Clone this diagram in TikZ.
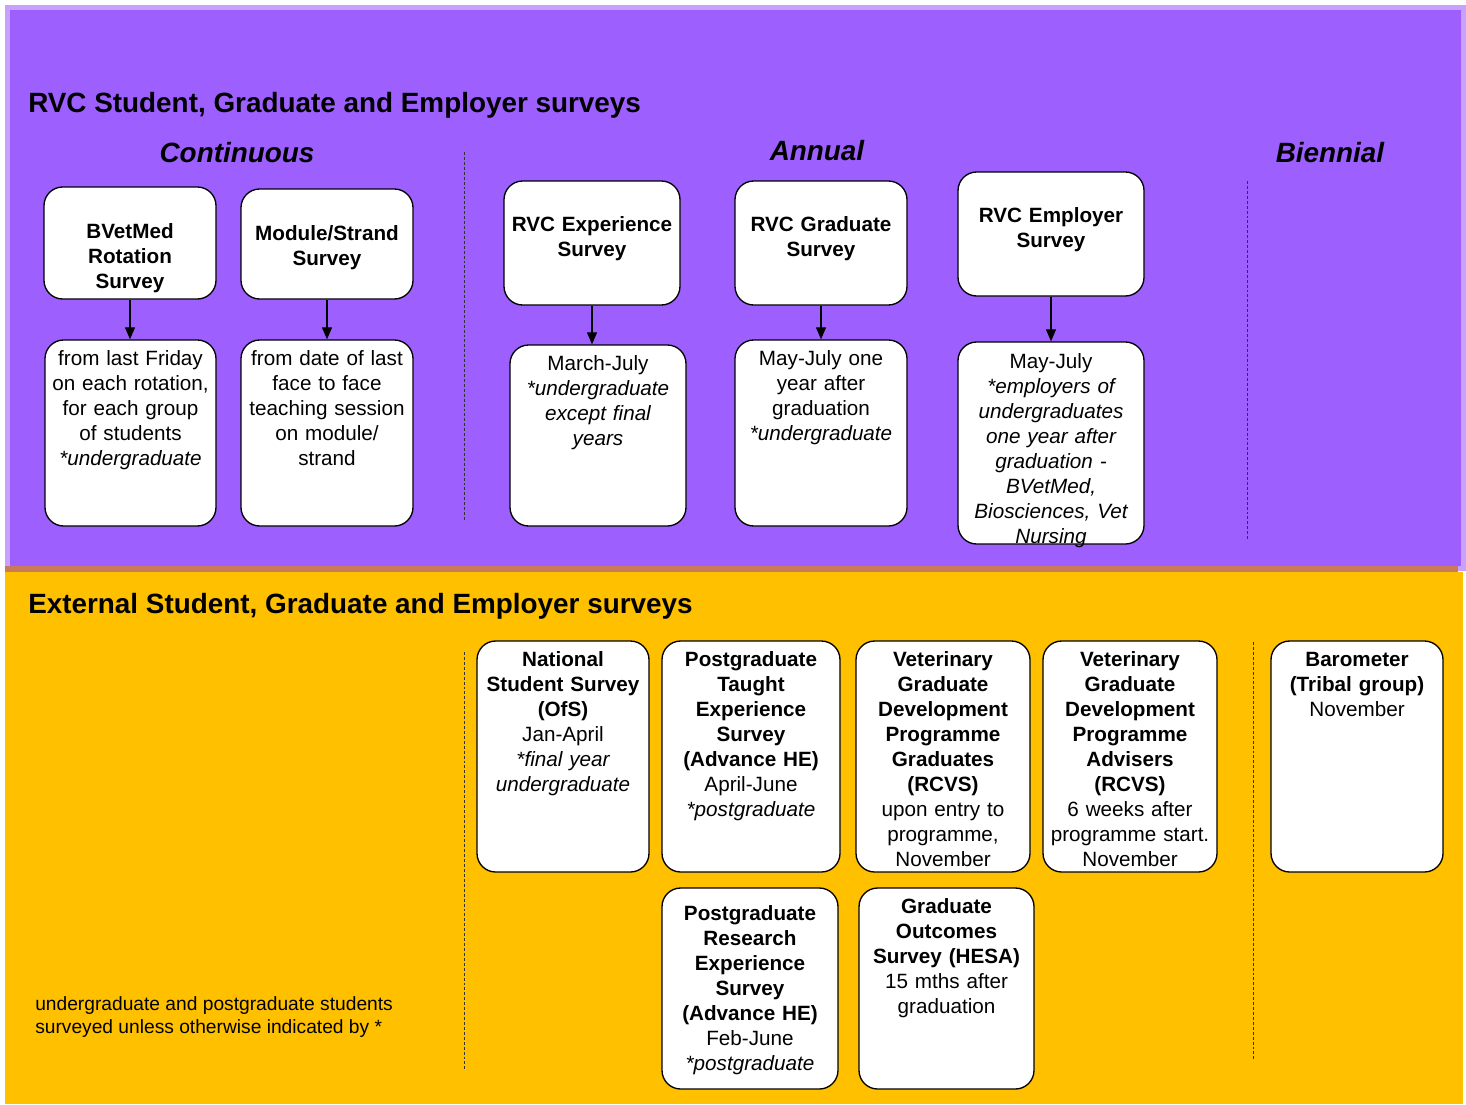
\documentclass[tikz,border=0pt]{standalone}
\usepackage{fontspec}
\setmainfont{Liberation Sans}
\usepackage{tikz}
\usetikzlibrary{positioning,fit,arrows.meta}

% colours of the two bands
\definecolor{colRVC}{RGB}{158,95,255}
\definecolor{colRVCedge}{RGB}{200,160,255}
\definecolor{colExt}{RGB}{255,192,0}
\definecolor{colSeam}{RGB}{200,122,90}

\newcommand{\boxfont}{\fontsize{15.5}{18.75}\selectfont}
\newcommand{\headfont}{\fontsize{20.9}{24}\selectfont\bfseries}
\newcommand{\notefont}{\fontsize{14.4}{17.25}\selectfont}

\tikzset{
  survey/.style={draw=black, line width=1pt, fill=white, rounded corners=14pt, inner sep=0pt},
  survtxt/.style={font=\boxfont, align=center, text width=150pt, inner sep=0pt,
    execute at begin node=\strut},
  sep/.style={draw=black!80, line width=0.7pt, dash pattern=on 2.2pt off 1.5pt},
  arr/.style={line width=0.8pt, -{Triangle[length=9pt,width=7.5pt]}},
}

\begin{document}
\begin{tikzpicture}[x=0.75pt, y=-0.75pt]
  \useasboundingbox (0,0) rectangle (1466,1104);

  % background bands
  \fill[white] (0,0) rectangle (1466,1104);
  \fill[colRVCedge] (5,5) rectangle (1466,571);
  \fill[colRVC] (10,10) rectangle (1461,566);
  \fill[colSeam] (5,566) rectangle (1458,572);
  \fill[colExt] (5,572) rectangle (1463,1104);

  % headings
  \node[font=\headfont, anchor=base west, inner sep=0pt] (rvchead) at (28,112)
    {RVC Student, Graduate and Employer surveys};
  \node[font=\headfont\itshape, anchor=base, inner sep=0pt] (cont) at (237,162) {Continuous};
  \node[font=\headfont\itshape, anchor=base, inner sep=0pt] (annual) at (817,160) {Annual};
  \node[font=\headfont\itshape, anchor=base, inner sep=0pt] (bienn) at (1330,162) {Biennial};
  \node[font=\headfont, anchor=base west, inner sep=0pt] (exthead) at (28,613)
    {External Student, Graduate and Employer surveys};

  % separators
  \draw[sep] (464,152) -- (464,520);
  \draw[sep] (1247,181) -- (1247,541);
  \draw[sep] (464,652) -- (464,1070);
  \draw[sep] (1253,642) -- (1253,1060);

  % RVC survey boxes
  \node[survey, fit={(44,187) (216,299)}] (bvm) {};
  \node[survey, fit={(45,340) (216,526)}] (bvmd) {};
  \node[survey, fit={(241,189) (413,299)}] (mod) {};
  \node[survey, fit={(241,340) (413,526)}] (modd) {};
  \node[survey, fit={(504,181) (680,305)}] (rexp) {};
  \node[survey, fit={(510,345) (686,526)}] (rexpd) {};
  \node[survey, fit={(735,181) (907,305)}] (rgrad) {};
  \node[survey, fit={(735,340) (907,526)}] (rgradd) {};
  \node[survey, fit={(958,172) (1144,296)}] (remp) {};
  \node[survey, fit={(958,342) (1144,544)}] (rempd) {};

  % RVC survey texts
  \node[survtxt, below=25.5pt of bvm.north] (bvm-t)
    {\textbf{BVetMed\\Rotation\\Survey}};
  \node[survtxt, below=6.4pt of bvmd.north] (bvmd-t)
    {from last Friday\\on each rotation,\\for each group\\of students\\\textit{*undergraduate}};
  \node[survtxt, below=25.5pt of mod.north] (mod-t)
    {\textbf{Module/Strand\\Survey}};
  \node[survtxt, below=6.4pt of modd.north] (modd-t)
    {from date of last\\face to face\\teaching session\\on module/\\strand};
  \node[survtxt, below=25.2pt of rexp.north] (rexp-t)
    {\textbf{RVC Experience\\Survey}};
  \node[survtxt, below=6.4pt of rexpd.north] (rexpd-t)
    {March-July\\\textit{*undergraduate\\except final\\years}};
  \node[survtxt, below=25.2pt of rgrad.north] (rgrad-t)
    {\textbf{RVC Graduate\\Survey}};
  \node[survtxt, below=6.4pt of rgradd.north] (rgradd-t)
    {May-July one\\year after\\graduation\\\textit{*undergraduate}};
  \node[survtxt, below=25.2pt of remp.north] (remp-t)
    {\textbf{RVC Employer\\Survey}};
  \node[survtxt, below=7.1pt of rempd.north] (rempd-t)
    {May-July\\\textit{*employers of\\undergraduates\\one year after\\graduation -\\BVetMed,\\Biosciences, Vet\\Nursing}};

  % arrows from survey to its timing
  \draw[arr] (bvm.south) -- (bvm.south |- bvmd.north);
  \draw[arr] (mod.south) -- (mod.south |- modd.north);
  \draw[arr] (rexp.south) -- (rexp.south |- rexpd.north);
  \draw[arr] (rgrad.south) -- (rgrad.south |- rgradd.north);
  \draw[arr] (remp.south) -- (remp.south |- rempd.north);

  % external survey boxes
  \node[survey, fit={(477,641) (649,872)}] (nss) {};
  \node[survey, fit={(662,641) (840,872)}] (ptes) {};
  \node[survey, fit={(856,641) (1030,872)}] (vgdpg) {};
  \node[survey, fit={(1043,641) (1217,872)}] (vgdpa) {};
  \node[survey, fit={(1271,641) (1443,872)}] (baro) {};
  \node[survey, fit={(662,888) (838,1089)}] (pres) {};
  \node[survey, fit={(859,888) (1034,1089)}] (gos) {};

  % external survey texts
  \node[survtxt, below=6.4pt of nss.north] (nss-t)
    {\textbf{National\\Student Survey\\(OfS)}\\Jan-April\\\textit{*final year\\undergraduate}};
  \node[survtxt, below=6.4pt of ptes.north] (ptes-t)
    {\textbf{Postgraduate\\Taught\\Experience\\Survey\\(Advance HE)}\\April-June\\\textit{*postgraduate}};
  \node[survtxt, below=6.4pt of vgdpg.north] (vgdpg-t)
    {\textbf{Veterinary\\Graduate\\Development\\Programme\\Graduates\\(RCVS)}\\upon entry to\\programme,\\November};
  \node[survtxt, below=6.4pt of vgdpa.north] (vgdpa-t)
    {\textbf{Veterinary\\Graduate\\Development\\Programme\\Advisers\\(RCVS)}\\6 weeks after\\programme start.\\November};
  \node[survtxt, below=6.4pt of baro.north] (baro-t)
    {\textbf{Barometer\\(Tribal group)}\\November};
  \node[survtxt, below=11.7pt of pres.north] (pres-t)
    {\textbf{Postgraduate\\Research\\Experience\\Survey\\(Advance HE)}\\Feb-June\\\textit{*postgraduate}};
  \node[survtxt, below=6.4pt of gos.north] (gos-t)
    {\textbf{Graduate\\Outcomes\\Survey (HESA)}\\15 mths after\\graduation};

  % note
  \node[font=\notefont, align=left, anchor=north west, inner sep=0pt,
    execute at begin node=\strut] (note) at (35,996)
    {undergraduate and postgraduate students\\surveyed unless otherwise indicated by *};

\end{tikzpicture}
\end{document}
